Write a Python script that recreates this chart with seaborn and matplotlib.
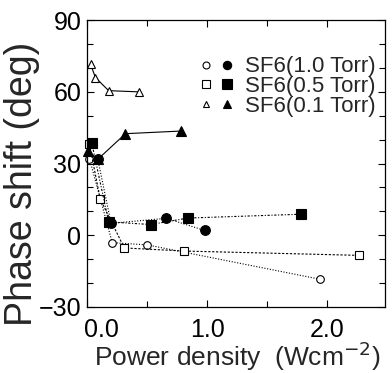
import matplotlib
matplotlib.use("Agg")
import matplotlib.pyplot as plt
import matplotlib.transforms as mtransforms
import seaborn as sns
import pandas as pd
from matplotlib.lines import Line2D
from matplotlib.legend_handler import HandlerTuple
from matplotlib.ticker import MultipleLocator

# Data (power density W/cm^2, phase shift deg)
tri_open_x = [0.03, 0.07, 0.18, 0.43]
tri_open_y = [71.5, 66.0, 60.5, 60.0]
tri_fill_x = [0.01, 0.09, 0.32, 0.78]
tri_fill_y = [35.3, 31.8, 42.5, 43.6]
sq_open_x = [0.02, 0.11, 0.31, 0.81, 2.26]
sq_open_y = [38.1, 15.1, -5.3, -6.6, -8.4]
sq_fill_x = [0.04, 0.18, 0.53, 0.84, 1.78]
sq_fill_y = [38.5, 5.6, 4.5, 7.2, 8.8]
ci_open_x = [0.02, 0.21, 0.50, 1.94]
ci_open_y = [32.1, -3.1, -4.0, -18.4]
ci_fill_x = [0.09, 0.20, 0.66, 0.98]
ci_fill_y = [31.8, 5.0, 7.1, 2.0]

legend_labels = ["SF6(1.0 Torr)", "SF6(0.5 Torr)", "SF6(0.1 Torr)"]
x_ticks = [0, 1, 2]
x_tick_labels = ["0.0", "1.0", "2.0"]

sns.set_theme(style="ticks")
plt.rcParams['font.family'] = ['Liberation Sans', 'DejaVu Sans']

fig = plt.figure(figsize=(3.92, 3.73), dpi=100)
ax = fig.add_axes([0.222, 0.177, 0.760, 0.769])

series = [
    (ci_open_x, ci_open_y, 'o', 'white', (0, (1, 1.5)), 5.5),
    (ci_fill_x, ci_fill_y, 'o', 'black', (0, (1, 1.5)), 7),
    (sq_open_x, sq_open_y, 's', 'white', (0, (2, 1.5)), 6),
    (sq_fill_x, sq_fill_y, 's', 'black', (0, (2, 1.5, 1, 1.5)), 7),
    (tri_open_x, tri_open_y, '^', 'white', '-', 6),
    (tri_fill_x, tri_fill_y, '^', 'black', '-', 7),
]
for xs, ys, m, fc, ls, ms in series:
    df = pd.DataFrame({"x": xs, "y": ys})
    sns.lineplot(data=df, x="x", y="y", ax=ax, sort=False, estimator=None,
                 color='black', linestyle=ls, linewidth=0.8, marker=m,
                 markersize=ms, markerfacecolor=fc, markeredgecolor='black',
                 markeredgewidth=0.8, clip_on=False)

ax.set_xlim(0, 2.48)
ax.set_ylim(-30, 90)
ax.xaxis.set_minor_locator(MultipleLocator(0.5))
ax.yaxis.set_major_locator(MultipleLocator(30))
ax.yaxis.set_minor_locator(MultipleLocator(10))
ax.set_xticks(x_ticks)
ax.set_xticklabels(x_tick_labels)
ax.tick_params(which='both', direction='in', top=True, right=True,
               width=0.8, colors='black')
ax.tick_params(which='major', length=5, labelsize=18)
ax.tick_params(axis='x', which='major', pad=8)
ax.tick_params(axis='y', which='major', pad=4)
ax.tick_params(which='minor', length=4)
for s in ax.spines.values():
    s.set_linewidth(0.9)
    s.set_color('black')

# nudge the "0.0" label right, as in the reference
first = ax.get_xticklabels()[0]
first.set_transform(first.get_transform() +
                    mtransforms.ScaledTranslation(14 / 100, 0, fig.dpi_scale_trans))

ax.set_xlabel("Power density  (Wcm$^{-2}$)", fontsize=19)
ax.xaxis.set_label_coords(0.505, -0.115)
ax.set_ylabel("Phase shift (deg)", fontsize=27)
ax.yaxis.set_label_coords(-0.158, 0.43)

def h(m, fc, ms):
    return Line2D([], [], linestyle='none', marker=m, markersize=ms,
                  markerfacecolor=fc, markeredgecolor='black', markeredgewidth=0.8)

handles = [(h('o', 'white', 5), h('o', 'black', 6)),
           (h('s', 'white', 6), h('s', 'black', 6.5)),
           (h('^', 'white', 5), h('^', 'black', 6))]
ax.legend(handles, legend_labels, handler_map={tuple: HandlerTuple(ndivide=None, pad=0.5)},
          loc='upper right', frameon=False, fontsize=16, handlelength=1.4,
          handletextpad=0.6, labelspacing=-0.05, borderaxespad=0.0,
          bbox_to_anchor=(1.0, 0.905))

fig.savefig("out.png", dpi=100)
